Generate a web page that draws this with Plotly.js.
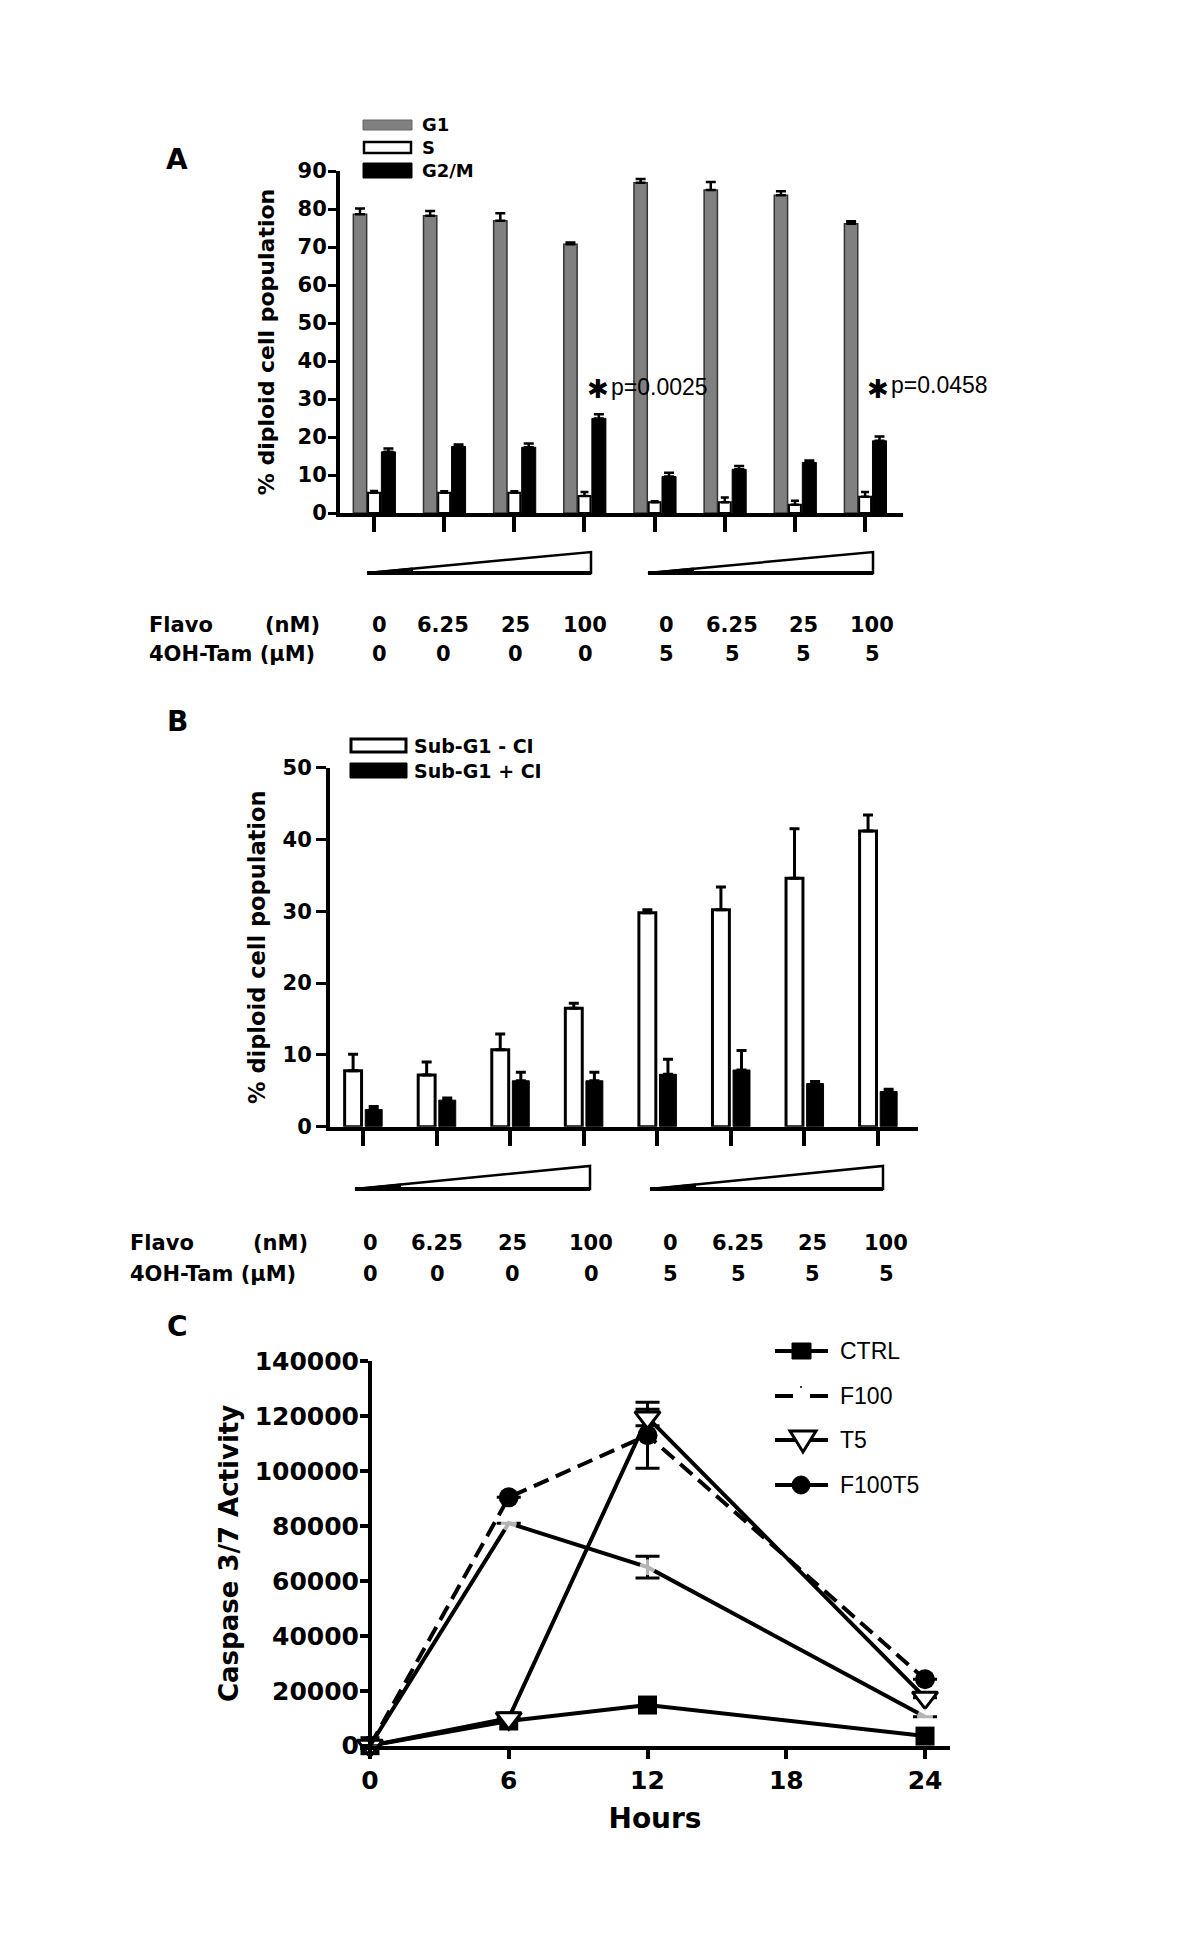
<!DOCTYPE html>
<html><head><meta charset="utf-8">
<script src="https://cdn.plot.ly/plotly-3.0.1.min.js"></script>
<style>html,body{margin:0;padding:0;background:#fff;} #chart{width:1200px;height:1958px;}</style>
</head><body><div id="chart"></div>
<script>
// ================= DATA =================
// Treatment conditions (shared by panels A and B)
const flavoNM = ["0", "6.25", "25", "100", "0", "6.25", "25", "100"];
const tamUM   = ["0", "0", "0", "0", "5", "5", "5", "5"];
const conditions = flavoNM.map((f, i) => "Flavo " + f + " nM / 4OH-Tam " + tamUM[i] + " µM");

// Panel A: cell-cycle phases (% diploid cell population)
const g1     = [78.6, 78.2, 76.9, 70.7, 86.9, 85.0, 83.6, 76.1];
const g1Err  = [1.5, 1.3, 2.0, 0.5, 1.0, 2.1, 1.1, 0.7];
const sPh    = [5.3, 5.3, 5.3, 4.5, 2.8, 2.8, 2.2, 4.3];
const sErr   = [0.5, 0.4, 0.4, 1.0, 0.3, 1.3, 1.0, 1.2];
const g2m    = [16.1, 17.5, 17.3, 24.9, 9.6, 11.5, 13.3, 19.0];
const g2mErr = [0.9, 0.5, 1.0, 1.1, 1.0, 0.9, 0.5, 1.1];
const pLabels = ["p=0.0025", "p=0.0458"];

// Panel B: Sub-G1 without / with caspase inhibitor
const subNoCI    = [7.8, 7.2, 10.7, 16.5, 29.8, 30.2, 34.6, 41.2];
const subNoCIErr = [2.3, 1.8, 2.2, 0.7, 0.4, 3.2, 6.9, 2.2];
const subCI      = [2.4, 3.7, 6.4, 6.4, 7.3, 7.9, 6.0, 4.9];
const subCIErr   = [0.4, 0.3, 1.2, 1.2, 2.1, 2.7, 0.3, 0.3];

// Panel C: Caspase 3/7 activity over time
const hours     = [0, 6, 12, 24];
const ctrl      = [0, 9000, 14800, 3500];
const f100      = [0, 81000, 65000, 10500];
const f100Err   = [0, 0, 4000, 0];
const t5        = [0, 10000, 119500, 17500];
const t5Err     = [0, 0, 3000, 0];
const f100t5    = [0, 90400, 113000, 24200];
const f100t5Err = [0, 0, 12000, 0];

// ================= HELPERS =================
const W = 1200, H = 1958;
const px = v => v / W;
const py = v => 1 - v / H;
const FAM = "DejaVu Sans, Liberation Sans, sans-serif";
const ARIAL = "Liberation Sans, Arial, sans-serif";
const bold = (size) => ({family: FAM, size: size, weight: "bold", color: "#000"});
const upErr = (arr, w, t) => ({type: "data", symmetric: false, array: arr,
  arrayminus: arr.map(() => 0), color: "#000", thickness: t, width: w, visible: true});
const symErr = (arr, w, t) => ({type: "data", array: arr, color: "#000", thickness: t, width: w, visible: true});

// ================= TRACES =================
const data = [];
// Panel A
data.push({type: "bar", x: conditions, y: g1, name: "G1", xaxis: "x", yaxis: "y",
  width: 0.19, offset: -0.295, marker: {color: "#808080", line: {color: "#333", width: 1.5}},
  error_y: upErr(g1Err, 5, 2.5), showlegend: false});
data.push({type: "bar", x: conditions, y: sPh, name: "S", xaxis: "x", yaxis: "y",
  width: 0.17, offset: -0.085, marker: {color: "#fff", line: {color: "#000", width: 2}},
  error_y: upErr(sErr, 4, 2.5), showlegend: false});
data.push({type: "bar", x: conditions, y: g2m, name: "G2/M", xaxis: "x", yaxis: "y",
  width: 0.2, offset: 0.105, marker: {color: "#000", line: {color: "#000", width: 1}},
  error_y: upErr(g2mErr, 5, 2.5), showlegend: false});
// Panel B
data.push({type: "bar", x: conditions, y: subNoCI, name: "Sub-G1 - CI", xaxis: "x2", yaxis: "y2",
  width: 0.23, offset: -0.25, marker: {color: "#fff", line: {color: "#000", width: 3}},
  error_y: upErr(subNoCIErr, 5, 3), showlegend: false});
data.push({type: "bar", x: conditions, y: subCI, name: "Sub-G1 + CI", xaxis: "x2", yaxis: "y2",
  width: 0.23, offset: 0.03, marker: {color: "#000", line: {color: "#000", width: 1}},
  error_y: upErr(subCIErr, 5, 3), showlegend: false});
// Panel C
data.push({type: "scatter", mode: "lines+markers", x: hours, y: f100t5, name: "F100T5", xaxis: "x3", yaxis: "y3",
  line: {color: "#000", width: 4, dash: "16px,8px"}, marker: {symbol: "circle", size: 20, color: "#000"},
  error_y: symErr(f100t5Err, 12, 3), cliponaxis: false, showlegend: false});
data.push({type: "scatter", mode: "lines+markers", x: hours, y: ctrl, name: "CTRL", xaxis: "x3", yaxis: "y3",
  line: {color: "#000", width: 4}, marker: {symbol: "square", size: 19, color: "#000"},
  cliponaxis: false, showlegend: false});
data.push({type: "scatter", mode: "lines+markers", x: hours, y: t5, name: "T5", xaxis: "x3", yaxis: "y3",
  line: {color: "#000", width: 4}, marker: {symbol: "triangle-down", size: 22, color: "#fff", line: {color: "#000", width: 3}},
  error_y: symErr(t5Err, 12, 3), cliponaxis: false, showlegend: false});
data.push({type: "scatter", mode: "lines+markers", x: hours, y: f100, name: "F100", xaxis: "x3", yaxis: "y3",
  line: {color: "#000", width: 4}, marker: {symbol: "circle", size: [0, 16, 16, 16], color: "#fff", line: {width: 0}},
  error_y: symErr(f100Err, 12, 3), cliponaxis: false, showlegend: false});

// ================= LAYOUT =================
const catAxis = (d0, d1, r0, r1, anchor) => ({type: "category", domain: [px(d0), px(d1)], range: [r0, r1],
  anchor: anchor, showline: true, linewidth: 4, linecolor: "#000", ticks: "outside", ticklen: 15,
  tickwidth: 4, tickcolor: "#000", showticklabels: false, showgrid: false, zeroline: false});

const layout = {
  width: W, height: H, margin: {l: 0, r: 0, t: 0, b: 0},
  paper_bgcolor: "#fff", plot_bgcolor: "rgba(0,0,0,0)",
  barmode: "overlay", showlegend: false,
  xaxis: catAxis(340, 903, -0.485, 7.54, "y"),
  yaxis: {domain: [py(513), py(171)], range: [0, 90], anchor: "x", dtick: 10, tick0: 0,
    showline: true, linewidth: 4, linecolor: "#000", ticks: "outside", ticklen: 8, tickwidth: 3, tickcolor: "#000",
    tickfont: bold(21), ticklabelstandoff: -3, showgrid: false, zeroline: false,
    title: {text: "% diploid cell population", font: bold(22), standoff: 18}},
  xaxis2: catAxis(330, 918, -0.449, 7.544, "y2"),
  yaxis2: {domain: [py(1126.7), py(767.7)], range: [0, 50], anchor: "x2", dtick: 10, tick0: 0,
    showline: true, linewidth: 4, linecolor: "#000", ticks: "outside", ticklen: 10, tickwidth: 3, tickcolor: "#000",
    tickfont: bold(21), showgrid: false, zeroline: false,
    title: {text: "% diploid cell population", font: bold(22.5), standoff: 12}},
  xaxis3: {domain: [px(360), px(950)], range: [-0.432, 25.08], anchor: "y3",
    tickvals: [0, 6, 12, 18, 24], showline: true, linewidth: 4, linecolor: "#000",
    ticks: "outside", ticklen: 9, tickwidth: 4, tickcolor: "#000", tickfont: bold(25),
    showgrid: false, zeroline: false,
    title: {text: "Hours", font: bold(28), standoff: 16}},
  yaxis3: {domain: [py(1745.7), py(1361.1)], range: [0, 140000], anchor: "free", position: px(370),
    tickvals: [0, 20000, 40000, 60000, 80000, 100000, 120000, 140000], tickformat: "d",
    showline: true, linewidth: 4, linecolor: "#000", ticks: "outside", ticklen: 8, tickwidth: 4, tickcolor: "#000",
    tickfont: bold(25), ticklabelstandoff: -4, showgrid: false, zeroline: false,
    title: {text: "Caspase 3/7 Activity", font: bold(26), standoff: 8}},
  shapes: [], annotations: []
};

const S = layout.shapes, A = layout.annotations;
const txt = (text, x, y, font, xanchor) => A.push({text: text, x: px(x), y: py(y), xref: "paper", yref: "paper",
  xanchor: xanchor || "center", yanchor: "middle", showarrow: false, font: font});

// Panel letters
txt("A", 177, 160, bold(28));
txt("B", 177, 722, bold(28));
txt("C", 177, 1326, bold(28));

// Legend A
const rect = (x0, y0, x1, y1, fill, lc, lw) => S.push({type: "rect", xref: "paper", yref: "paper",
  x0: px(x0), x1: px(x1), y0: py(y1), y1: py(y0), fillcolor: fill, line: {color: lc, width: lw}});
rect(363, 120, 412, 130, "#808080", "#666", 1);
rect(364, 142, 411, 153, "#fff", "#000", 2.5);
rect(363, 163, 412, 178, "#000", "#000", 1);
txt("G1", 420, 125, bold(18), "left");
txt("S", 420, 147, bold(18), "left");
txt("G2/M", 420, 171, bold(18), "left");

// Legend B
rect(351, 739, 406, 752, "#fff", "#000", 3);
rect(350, 763, 407, 778, "#000", "#000", 1);
txt("Sub-G1 - CI", 412, 746, bold(19), "left");
txt("Sub-G1 + CI", 412, 771, bold(19), "left");

// p-value annotations (panel A)
txt("✱", 598, 389, bold(26));
txt(pLabels[0], 609, 387, {family: ARIAL, size: 23, color: "#000"}, "left");
txt("✱", 878, 389, bold(26));
txt(pLabels[1], 889, 385, {family: ARIAL, size: 23, color: "#000"}, "left");

// Concentration wedges
function wedge(x0, x1, yTop, yBot) {
  S.push({type: "path", xref: "paper", yref: "paper",
    path: "M" + px(x0) + "," + py(yBot) + " L" + px(x1) + "," + py(yTop) + " L" + px(x1) + "," + py(yBot) + " Z",
    fillcolor: "#fff", line: {color: "#000", width: 2.5}});
  S.push({type: "line", xref: "paper", yref: "paper", x0: px(x0), x1: px(x1), y0: py(yBot), y1: py(yBot),
    line: {color: "#000", width: 4}});
  S.push({type: "path", xref: "paper", yref: "paper",
    path: "M" + px(x0) + "," + py(yBot) + " L" + px(x0 + 45) + "," + py(yBot - 4.5) + " L" + px(x0 + 45) + "," + py(yBot) + " Z",
    fillcolor: "#000", line: {color: "#000", width: 2}});
}
wedge(367, 591, 552, 573);
wedge(648, 873, 552, 573);
wedge(355, 590, 1166, 1189);
wedge(650, 883, 1166, 1189);

// Condition label rows
const rowFont = bold(21);
const colA = [379, 443, 515, 585, 666, 732, 803, 872];
const colB = [370, 437, 512, 591, 670, 738, 812, 886];
function labelRows(cols, y1, y2, xl, xr) {
  txt("Flavo", xl, y1, rowFont, "left");
  txt("(nM)", xr, y1, rowFont, "right");
  txt("4OH-Tam (µM)", xl, y2, rowFont, "left");
  flavoNM.forEach((f, i) => txt(f, cols[i], y1, rowFont));
  tamUM.forEach((t, i) => txt(t, cols[i], y2, rowFont));
}
labelRows(colA, 625, 654, 147, 322);
labelRows(colB, 1243, 1274, 128, 310);

// Legend C
const lgY = [1351, 1396, 1440, 1485];
const lgNames = ["CTRL", "F100", "T5", "F100T5"];
const hline = (x0, x1, y) => S.push({type: "line", xref: "paper", yref: "paper", x0: px(x0), x1: px(x1),
  y0: py(y), y1: py(y), line: {color: "#000", width: 4}});
hline(775, 828, lgY[0]);
rect(792, lgY[0] - 8, 811, lgY[0] + 8, "#000", "#000", 1);
hline(775, 793, lgY[1]);
hline(810, 828, lgY[1]);
S.push({type: "circle", xref: "paper", yref: "paper", x0: px(800), x1: px(802), y0: py(lgY[1] - 8), y1: py(lgY[1] - 10),
  fillcolor: "#000", line: {width: 0}});
hline(775, 828, lgY[2]);
S.push({type: "path", xref: "paper", yref: "paper",
  path: "M" + px(790) + "," + py(lgY[2] - 9) + " L" + px(816) + "," + py(lgY[2] - 9) + " L" + px(803) + "," + py(lgY[2] + 12) + " Z",
  fillcolor: "#fff", line: {color: "#000", width: 3}});
hline(775, 828, lgY[3]);
S.push({type: "circle", xref: "paper", yref: "paper", x0: px(792), x1: px(810), y0: py(lgY[3] + 9), y1: py(lgY[3] - 9),
  fillcolor: "#000", line: {color: "#000", width: 1}});
lgNames.forEach((n, i) => txt(n, 838, lgY[i], {family: ARIAL, size: 23, color: "#000"}, "left"));

Plotly.newPlot("chart", data, layout, {staticPlot: true});
</script>
</body></html>
